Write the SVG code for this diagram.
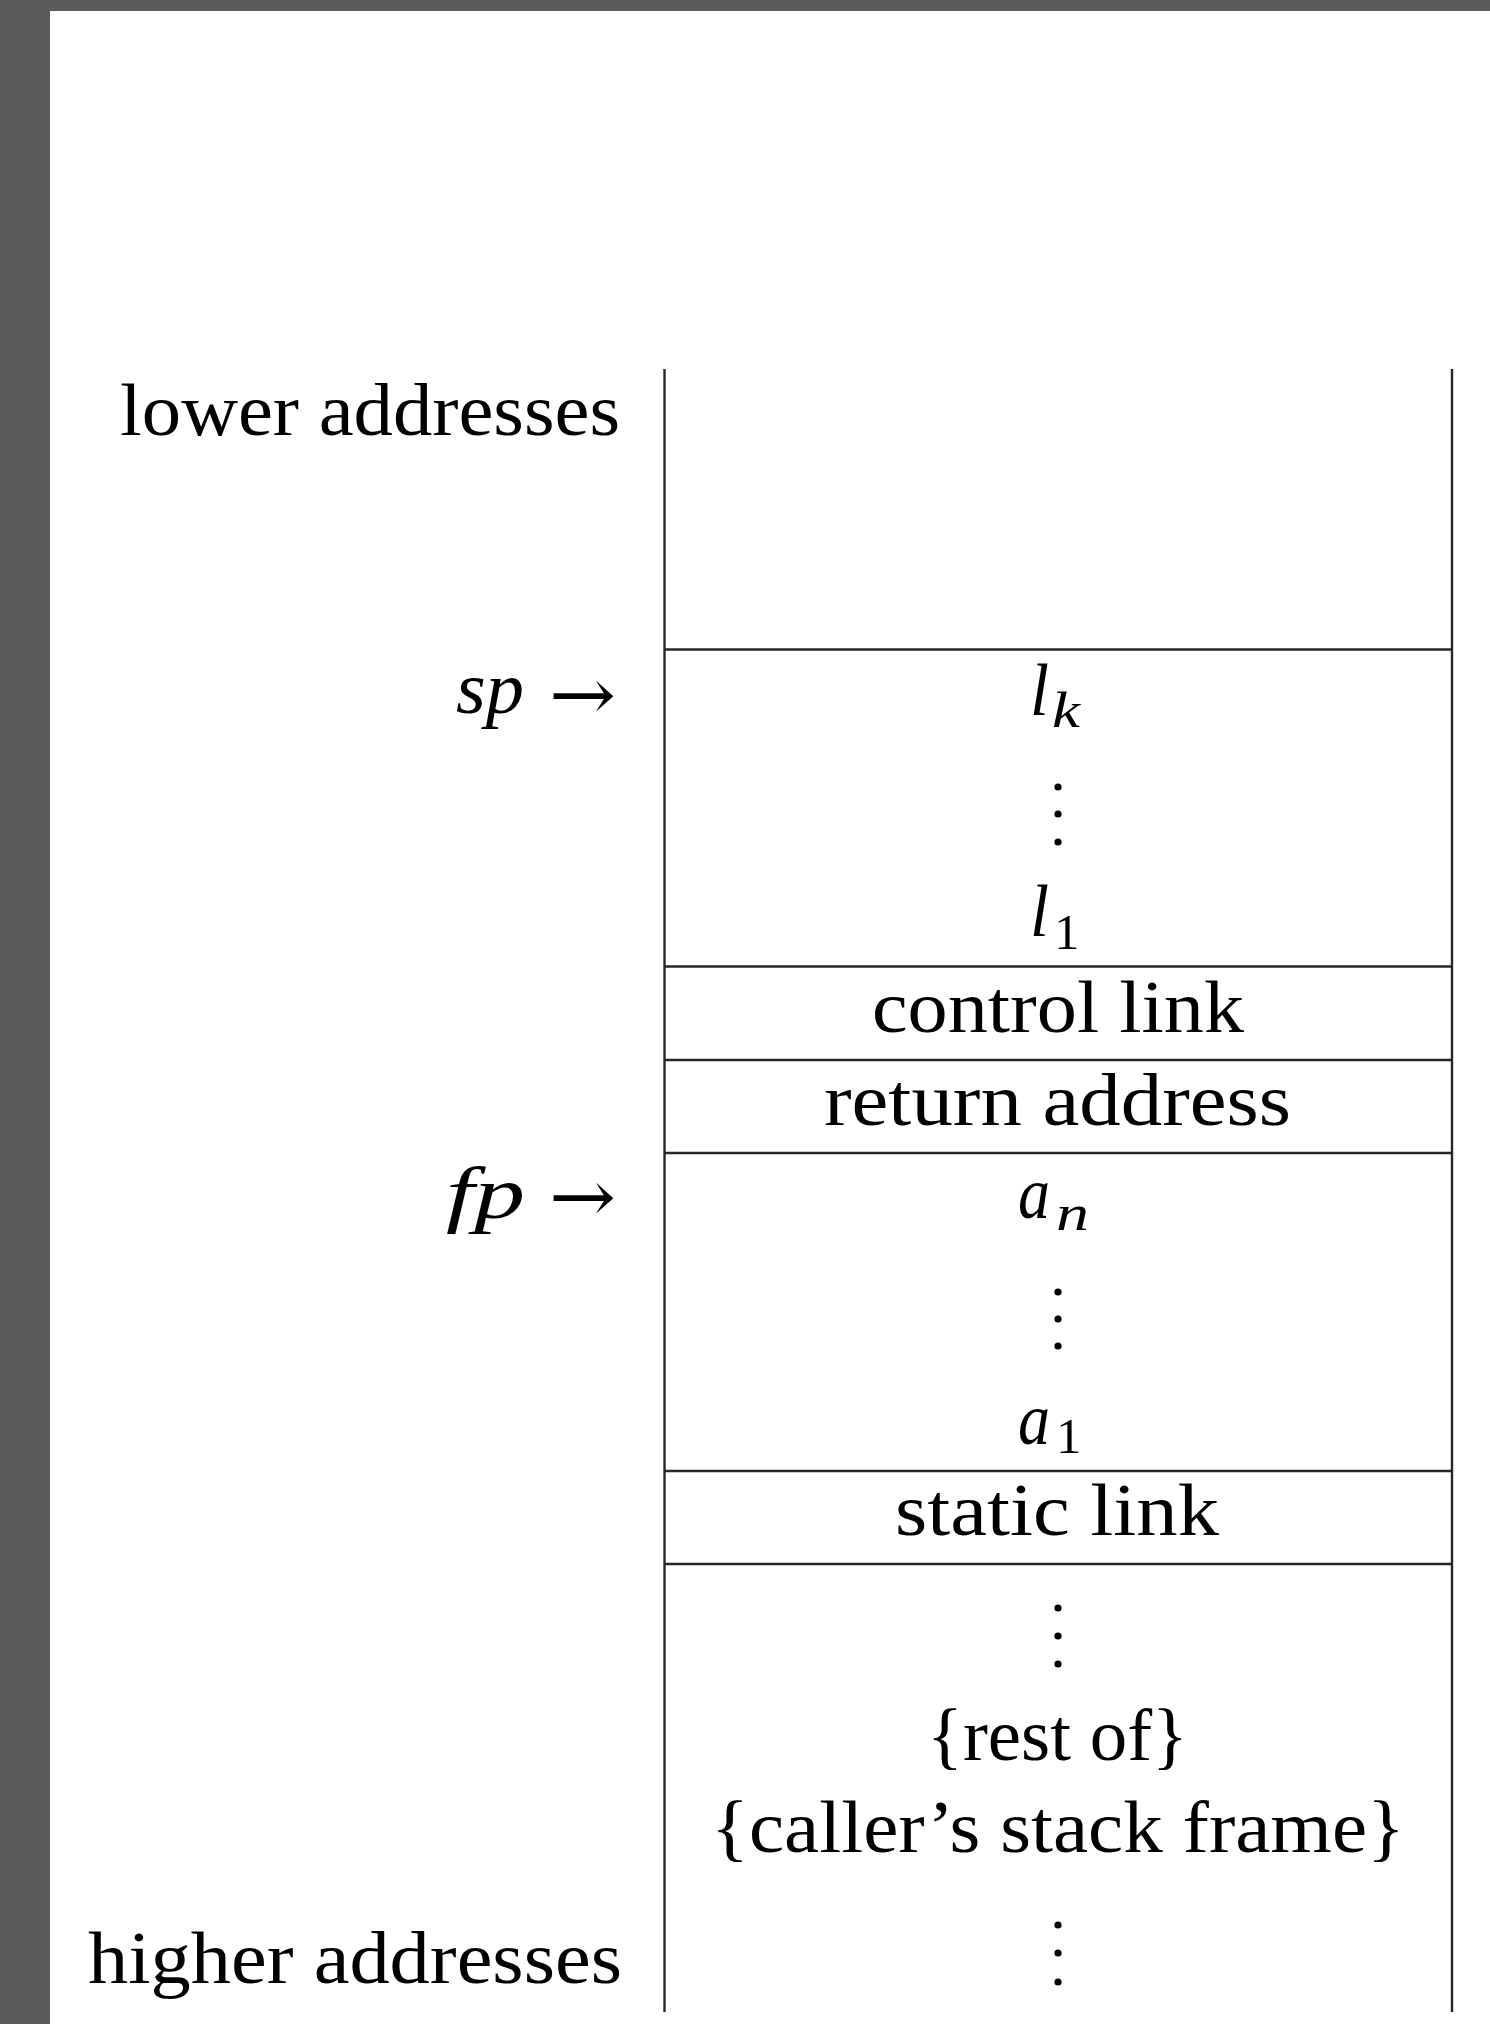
<svg xmlns="http://www.w3.org/2000/svg" width="1490" height="2024" viewBox="0 0 1490 2024">
  <style>
    .frame { fill: #5b5b5b; }
    .rule { stroke: #262626; stroke-width: 2.4; fill: none; }
    .txt { font-family: "Liberation Serif", "Times New Roman", serif; font-size: 73px; fill: #000; }
    .mi { font-style: italic; }
    .sub { font-size: 51px; }
    .arrow { font-family: "DejaVu Serif", "DejaVu Sans", serif; font-size: 73px; fill: #000; }
    .dot { fill: #000; }
  </style>

  <!-- page background with grey margin -->
  <rect x="0" y="0" width="1490" height="2024" class="frame"/>
  <rect x="50" y="11" width="1440" height="2013" fill="#ffffff"/>

  <!-- stack outline and slot separators -->
  <g id="connectors">
    <line class="rule" x1="664.5" y1="369" x2="664.5" y2="2012"/>
    <line class="rule" x1="1452" y1="369" x2="1452" y2="2012"/>
    <line class="rule" x1="664.5" y1="649.5" x2="1452" y2="649.5"/>
    <line class="rule" x1="664.5" y1="966.5" x2="1452" y2="966.5"/>
    <line class="rule" x1="664.5" y1="1060" x2="1452" y2="1060"/>
    <line class="rule" x1="664.5" y1="1153" x2="1452" y2="1153"/>
    <line class="rule" x1="664.5" y1="1471" x2="1452" y2="1471"/>
    <line class="rule" x1="664.5" y1="1564" x2="1452" y2="1564"/>
  </g>

  <!-- address labels on the left -->
  <g id="label-lower">
    <text class="txt" x="120" y="435" textLength="500" lengthAdjust="spacingAndGlyphs">lower addresses</text>
  </g>
  <g id="label-higher">
    <text class="txt" x="88" y="1983" textLength="534" lengthAdjust="spacingAndGlyphs">higher addresses</text>
  </g>
  <g id="pointer-sp">
    <text class="txt mi" x="456" y="713" textLength="68" lengthAdjust="spacingAndGlyphs">sp</text>
    <text class="arrow" x="549" y="720" textLength="67" lengthAdjust="spacingAndGlyphs">→</text>
  </g>
  <g id="pointer-fp">
    <text class="txt mi" x="446" y="1218" textLength="79" lengthAdjust="spacingAndGlyphs">fp</text>
    <text class="arrow" x="549" y="1222" textLength="67" lengthAdjust="spacingAndGlyphs">→</text>
  </g>

  <!-- locals l_k ... l_1 -->
  <g id="slot-locals">
    <text class="txt mi" x="1030" y="715" textLength="19" lengthAdjust="spacingAndGlyphs">l</text>
    <text class="txt mi sub" x="1052" y="727" textLength="28" lengthAdjust="spacingAndGlyphs">k</text>
    <circle class="dot" cx="1058" cy="787" r="3.6"/>
    <circle class="dot" cx="1058" cy="814" r="3.6"/>
    <circle class="dot" cx="1058" cy="842" r="3.6"/>
    <text class="txt mi" x="1030" y="936" textLength="19" lengthAdjust="spacingAndGlyphs">l</text>
    <text class="txt sub" x="1054" y="949">1</text>
  </g>

  <g id="slot-control-link">
    <text class="txt" x="872" y="1032" textLength="372" lengthAdjust="spacingAndGlyphs">control link</text>
  </g>

  <g id="slot-return-address">
    <text class="txt" x="824" y="1125" textLength="467" lengthAdjust="spacingAndGlyphs">return address</text>
  </g>

  <!-- arguments a_n ... a_1 -->
  <g id="slot-args">
    <text class="txt mi" x="1018" y="1218" textLength="32" lengthAdjust="spacingAndGlyphs">a</text>
    <text class="txt mi sub" x="1056" y="1230" textLength="33" lengthAdjust="spacingAndGlyphs">n</text>
    <circle class="dot" cx="1058" cy="1292" r="3.6"/>
    <circle class="dot" cx="1058" cy="1319" r="3.6"/>
    <circle class="dot" cx="1058" cy="1346" r="3.6"/>
    <text class="txt mi" x="1018" y="1444" textLength="32" lengthAdjust="spacingAndGlyphs">a</text>
    <text class="txt sub" x="1056" y="1453">1</text>
  </g>

  <g id="slot-static-link">
    <text class="txt" x="895" y="1535" textLength="324" lengthAdjust="spacingAndGlyphs">static link</text>
  </g>

  <!-- caller's frame below -->
  <g id="slot-caller-frame">
    <circle class="dot" cx="1058" cy="1608" r="3.6"/>
    <circle class="dot" cx="1058" cy="1636" r="3.6"/>
    <circle class="dot" cx="1058" cy="1664" r="3.6"/>
    <text class="txt" x="927" y="1760" textLength="261" lengthAdjust="spacingAndGlyphs">{rest of}</text>
    <text class="txt" x="711" y="1852" textLength="694" lengthAdjust="spacingAndGlyphs">{caller’s stack frame}</text>
    <circle class="dot" cx="1058" cy="1925" r="3.6"/>
    <circle class="dot" cx="1058" cy="1953" r="3.6"/>
    <circle class="dot" cx="1058" cy="1982" r="3.6"/>
  </g>
</svg>
